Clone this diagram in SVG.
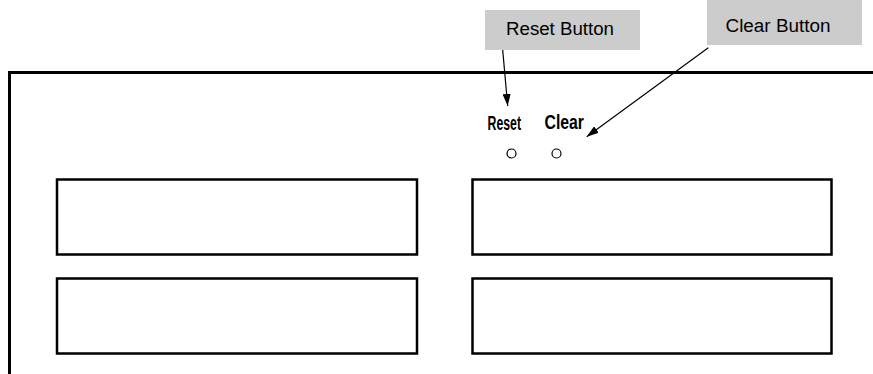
<svg xmlns="http://www.w3.org/2000/svg" width="873" height="374" viewBox="0 0 873 374">
<style>
.frame{fill:none;stroke:#000;stroke-width:3}
.panel{fill:none;stroke:#000;stroke-width:2.5}
.callout{fill:#cccccc;stroke:none}
.ctext{font-family:"Liberation Sans",Arial,sans-serif;font-size:18px;fill:#000;text-anchor:middle}
.btext{font-family:"Liberation Sans",Arial,sans-serif;font-size:20px;font-weight:bold;fill:#000}
.led{fill:#fff;stroke:#000;stroke-width:1.2}
.conn{fill:none;stroke:#000;stroke-width:1.2}
</style>
<defs>
<marker id="ah" viewBox="0 0 12 8" refX="12" refY="4" markerWidth="12" markerHeight="8" markerUnits="userSpaceOnUse" orient="auto">
<path d="M0,0 L12,4 L0,8 Z" fill="#000"/>
</marker>
</defs>
<g id="chassis">
<path class="frame" d="M9.5,374 V72.5 H873"/>
</g>
<g id="port1"><rect class="panel" x="57" y="179.5" width="360" height="75"/></g>
<g id="port2"><rect class="panel" x="472.5" y="179.5" width="359" height="75"/></g>
<g id="port3"><rect class="panel" x="57" y="278.5" width="360" height="75"/></g>
<g id="port4"><rect class="panel" x="472.5" y="278.5" width="359" height="75"/></g>
<g id="reset">
<text class="btext" x="487.5" y="130" textLength="33.5" lengthAdjust="spacingAndGlyphs">Reset</text>
<circle class="led" cx="511.5" cy="153.5" r="4.5"/>
</g>
<g id="clear">
<text class="btext" x="544.5" y="128.5" textLength="39.5" lengthAdjust="spacingAndGlyphs">Clear</text>
<circle class="led" cx="556.5" cy="153.5" r="4.5"/>
</g>
<g id="reset-callout">
<rect class="callout" x="485" y="10" width="155" height="40"/>
<text class="ctext" x="560" y="35" textLength="108" lengthAdjust="spacingAndGlyphs">Reset Button</text>
</g>
<g id="clear-callout">
<rect class="callout" x="707" y="0" width="155" height="45"/>
<text class="ctext" x="778" y="31.5" textLength="105" lengthAdjust="spacingAndGlyphs">Clear Button</text>
</g>
<g id="connectors">
<line class="conn" x1="502.7" y1="50" x2="507.7" y2="106" marker-end="url(#ah)"/>
<line class="conn" x1="708.3" y1="47.7" x2="586.7" y2="136.7" marker-end="url(#ah)"/>
</g>
</svg>
